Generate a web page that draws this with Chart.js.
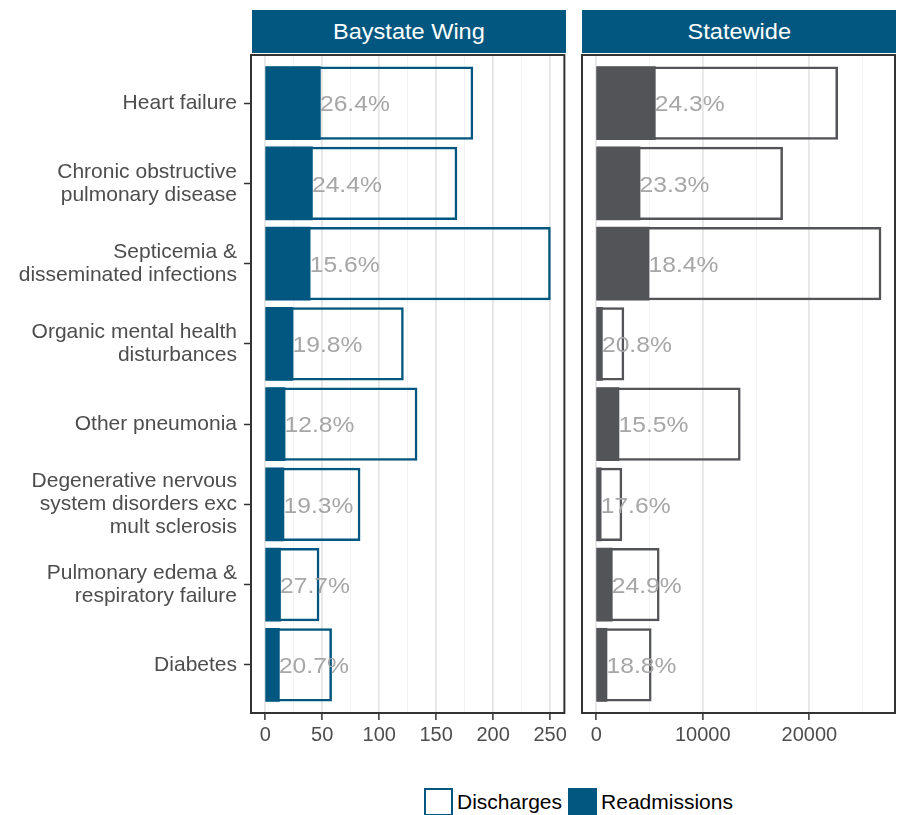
<!DOCTYPE html>
<html><head><meta charset="utf-8">
<script src="https://cdn.jsdelivr.net/npm/chart.js@4.4.1/dist/chart.umd.min.js"></script>
<style>
html,body{margin:0;padding:0;background:#fff;}
body{width:897px;height:815px;position:relative;overflow:hidden;font-family:'Liberation Sans',Arial,sans-serif;}
.strip{position:absolute;top:10px;height:43px;background:#01577f;color:#fff;font-size:22px;display:flex;align-items:center;justify-content:center;}
.strip span{display:inline-block;transform:scaleX(1.07);}
canvas{position:absolute;top:0;}
#legend{position:absolute;left:424px;top:788px;height:28px;display:flex;align-items:center;font-size:21px;color:#000;}
</style></head><body>
<div class="strip" style="left:252px;width:314px;"><span>Baystate Wing</span></div>
<div class="strip" style="left:582px;width:314px;"><span>Statewide</span></div>
<canvas id="c1" width="570" height="760" style="left:0"></canvas>
<canvas id="c2" width="327" height="760" style="left:570px"></canvas>
<div id="legend">
 <span style="box-sizing:border-box;width:29px;height:28px;border:2.5px solid #01577f;background:#fff"></span>
 <span style="margin-left:4px">Discharges</span>
 <span style="box-sizing:border-box;width:29px;height:28px;background:#01577f;margin-left:6px"></span>
 <span style="margin-left:4px">Readmissions</span>
</div>
<script>
const categories = [
  ['Heart failure'],
  ['Chronic obstructive', 'pulmonary disease'],
  ['Septicemia &', 'disseminated infections'],
  ['Organic mental health', 'disturbances'],
  ['Other pneumonia'],
  ['Degenerative nervous', 'system disorders exc', 'mult sclerosis'],
  ['Pulmonary edema &', 'respiratory failure'],
  ['Diabetes']
];
const panelTitles = ['Baystate Wing', 'Statewide'];
const seriesNames = ['Discharges', 'Readmissions'];

const baystateDischarges = [182, 168, 250, 121, 133, 83, 47, 58];
const baystateReadmissions = [48, 41, 39, 24, 17, 16, 13, 12];
const baystatePct = [26.4, 24.4, 15.6, 19.8, 12.8, 19.3, 27.7, 20.7];

const statewideDischarges = [22630, 17465, 26700, 2573, 13493, 2385, 5887, 5136];
const statewideReadmissions = [5500, 4069, 4913, 535, 2091, 420, 1466, 966];
const statewidePct = [24.3, 23.3, 18.4, 20.8, 15.5, 17.6, 24.9, 18.8];

const baystateMajorTicks = [0, 50, 100, 150, 200, 250];
const baystateMinorTicks = [25, 75, 125, 175, 225];
const statewideMajorTicks = [0, 10000, 20000];
const statewideMinorTicks = [5000, 15000, 25000];

const FONT = "'Liberation Sans', Arial, sans-serif";

const panelBorder = {
  id: 'panelBorder',
  afterDraw(chart) {
    const a = chart.chartArea, ctx = chart.ctx;
    ctx.save();
    ctx.strokeStyle = '#333333';
    ctx.lineWidth = 2;
    ctx.strokeRect(a.left, a.top, a.right - a.left, a.bottom - a.top);
    ctx.restore();
  }
};

function pctLabels(readm, pct) {
  return {
    id: 'pctLabels',
    afterDatasetsDraw(chart) {
      const ctx = chart.ctx, xs = chart.scales.x, ys = chart.scales.y;
      ctx.save();
      ctx.fillStyle = '#a6a6a6';
      ctx.font = '22px ' + FONT;
      ctx.textAlign = 'left';
      ctx.textBaseline = 'alphabetic';
      readm.forEach((v, i) => {
        const x = xs.getPixelForValue(v), y = ys.getPixelForValue(i);
        ctx.save();
        ctx.translate(x, y + 8.3);
        ctx.scale(1.12, 1);
        ctx.fillText(pct[i].toFixed(1) + '%', 0, 0);
        ctx.restore();
      });
      ctx.restore();
    }
  };
}

function makeChart(id, dis, readm, pct, major, minor, fillColor, lineColor, showY, padLeft) {
  const maxD = Math.max(...dis);
  const minorSet = new Set(minor);
  const allTicks = major.concat(minor).sort((a, b) => a - b);
  return new Chart(document.getElementById(id), {
    type: 'bar',
    data: {
      datasets: [
        {
          label: seriesNames[1],
          data: readm.map((v, i) => ({ x: v, y: i })),
          backgroundColor: fillColor,
          borderColor: fillColor,
          borderWidth: 0,
          inflateAmount: 0.8,
          grouped: false,
          order: 0,
          categoryPercentage: 1,
          barPercentage: 0.9
        },
        {
          label: seriesNames[0],
          data: dis.map((v, i) => ({ x: v, y: i })),
          backgroundColor: 'rgba(0,0,0,0)',
          borderColor: lineColor,
          borderWidth: 1.3,
          borderSkipped: false,
          inflateAmount: 0.6,
          grouped: false,
          order: 1,
          categoryPercentage: 1,
          barPercentage: 0.9
        }
      ]
    },
    options: {
      indexAxis: 'y',
      responsive: false,
      animation: false,
      events: [],
      layout: { padding: { top: 55, left: padLeft, right: showY ? 4 : 2, bottom: 0 } },
      plugins: { legend: { display: false }, tooltip: { enabled: false } },
      scales: {
        x: {
          type: 'linear',
          min: -0.05 * maxD,
          max: 1.05 * maxD,
          offset: false,
          afterBuildTicks: s => { s.ticks = allTicks.map(v => ({ value: v })); },
          afterFit: s => { s.height = 47; },
          border: { display: false },
          grid: {
            offset: false,
            color: c => minorSet.has(c.tick.value) ? '#f2f2f2' : '#e6e6e6',
            lineWidth: c => minorSet.has(c.tick.value) ? 1 : 1.8,
            tickColor: c => minorSet.has(c.tick.value) ? 'rgba(0,0,0,0)' : '#333333',
            tickWidth: 1.5,
            tickLength: 7
          },
          ticks: {
            autoSkip: false,
            maxRotation: 0,
            padding: 3,
            color: '#4d4d4d',
            font: { family: FONT, size: 20 },
            callback: v => minorSet.has(v) ? '' : String(v)
          }
        },
        y: {
          type: 'linear',
          min: -0.6,
          max: categories.length - 1 + 0.6,
          reverse: true,
          offset: false,
          display: showY,
          afterBuildTicks: s => { s.ticks = categories.map((_, i) => ({ value: i })); },
          afterFit: s => { if (showY) s.width = 251; },
          border: { display: false },
          grid: {
            offset: false,
            drawOnChartArea: false,
            tickLength: 7,
            tickColor: '#333333',
            tickWidth: 1.5
          },
          ticks: {
            autoSkip: false,
            padding: 7,
            color: '#4d4d4d',
            font: { family: FONT, size: 21, lineHeight: 1.08 },
            callback: v => categories[v]
          }
        }
      }
    },
    plugins: [panelBorder, pctLabels(readm, pct)]
  });
}

makeChart('c1', baystateDischarges, baystateReadmissions, baystatePct,
  baystateMajorTicks, baystateMinorTicks, '#01577f', '#01577f', true, 0);
makeChart('c2', statewideDischarges, statewideReadmissions, statewidePct,
  statewideMajorTicks, statewideMinorTicks, '#535458', '#535458', false, 12);
</script>
</body></html>
